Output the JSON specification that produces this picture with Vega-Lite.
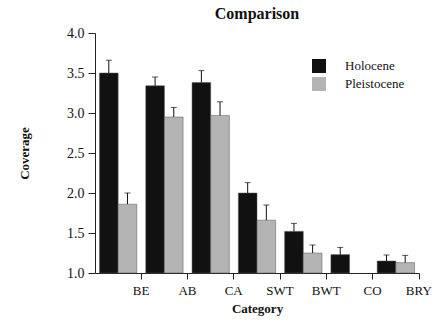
{
  "$schema": "https://vega.github.io/schema/vega-lite/v6.json",
  "width": 324,
  "height": 240,
  "autosize": "none",
  "padding": {"left": 95, "top": 33, "right": 27, "bottom": 49},
  "background": "white",
  "config": {
    "font": "Liberation Serif",
    "view": {"stroke": null},
    "axis": {"labelFont": "Liberation Serif", "titleFont": "Liberation Serif", "labelColor": "#111", "titleColor": "#111", "domainColor": "#222", "tickColor": "#222", "grid": false}
  },
  "title": {"text": "Comparison", "fontSize": 16, "fontWeight": "bold", "font": "Liberation Serif", "color": "#111", "offset": 4},
  "data": {
    "values": [
      {"category": "BE", "period": "Holocene", "value": 3.50, "upper": 3.66},
      {"category": "BE", "period": "Pleistocene", "value": 1.86, "upper": 2.0},
      {"category": "AB", "period": "Holocene", "value": 3.34, "upper": 3.45},
      {"category": "AB", "period": "Pleistocene", "value": 2.95, "upper": 3.07},
      {"category": "CA", "period": "Holocene", "value": 3.38, "upper": 3.53},
      {"category": "CA", "period": "Pleistocene", "value": 2.97, "upper": 3.14},
      {"category": "SWT", "period": "Holocene", "value": 2.0, "upper": 2.13},
      {"category": "SWT", "period": "Pleistocene", "value": 1.66, "upper": 1.85},
      {"category": "BWT", "period": "Holocene", "value": 1.52, "upper": 1.62},
      {"category": "BWT", "period": "Pleistocene", "value": 1.25, "upper": 1.35},
      {"category": "CO", "period": "Holocene", "value": 1.23, "upper": 1.32},
      {"category": "BRY", "period": "Holocene", "value": 1.15, "upper": 1.225},
      {"category": "BRY", "period": "Pleistocene", "value": 1.13, "upper": 1.22}
    ]
  },
  "encoding": {
    "x": {
      "field": "category", "type": "nominal",
      "sort": ["BE", "AB", "CA", "SWT", "BWT", "CO", "BRY"],
      "scale": {"paddingInner": 0, "paddingOuter": 0},
      "axis": {"title": "Category", "bandPosition": 1, "labelOffset": 23, "labelAngle": 0, "labelFontSize": 13, "titleFontSize": 13, "titleFontWeight": "bold", "tickSize": 6, "labelPadding": 5, "titlePadding": 5}
    },
    "xOffset": {
      "field": "period", "type": "nominal",
      "scale": {"domain": ["Holocene", "Pleistocene"], "paddingInner": 0, "paddingOuter": 0.24}
    },
    "y": {
      "field": "value", "type": "quantitative",
      "scale": {"domain": [1, 4], "zero": false, "nice": false},
      "axis": {"title": "Coverage", "values": [1, 1.5, 2, 2.5, 3, 3.5, 4], "format": ".1f", "labelOverlap": false, "labelFontSize": 14, "titleFontSize": 13, "titleFontWeight": "bold", "tickSize": 7, "labelPadding": 4, "titlePadding": 35}
    }
  },
  "layer": [
    {
      "mark": {"type": "bar", "stroke": "#555", "strokeWidth": 0.5},
      "encoding": {
        "y2": {"datum": 1},
        "color": {
          "field": "period", "type": "nominal",
          "scale": {"domain": ["Holocene", "Pleistocene"], "range": ["#111111", "#b4b4b4"]},
          "legend": {"title": null, "orient": "none", "legendX": 217, "legendY": 26, "symbolType": "square", "symbolSize": 196, "symbolStrokeWidth": 0, "labelFontSize": 13, "labelFont": "Liberation Serif", "labelColor": "#111", "labelOffset": 19, "rowPadding": 4}
        }
      }
    },
    {
      "mark": {"type": "rule", "color": "#111", "strokeWidth": 1},
      "encoding": {
        "y2": {"field": "upper"}
      }
    },
    {
      "mark": {"type": "tick", "color": "#111", "size": 6, "thickness": 1},
      "encoding": {
        "y": {"field": "upper", "type": "quantitative", "scale": {"domain": [1, 4], "zero": false, "nice": false}, "axis": {"title": "Coverage", "values": [1, 1.5, 2, 2.5, 3, 3.5, 4], "format": ".1f", "labelOverlap": false, "labelFontSize": 14, "titleFontSize": 13, "titleFontWeight": "bold", "tickSize": 7, "labelPadding": 4, "titlePadding": 35}}
      }
    }
  ]
}
